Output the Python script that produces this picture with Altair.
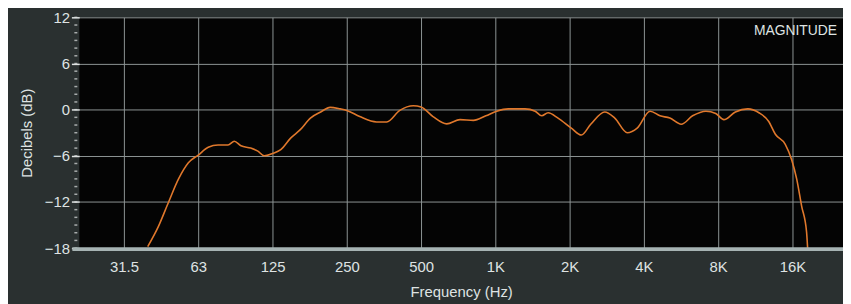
import altair as alt
import pandas as pd

# ---- data ----
freq_hz = [39, 43.2, 47.4, 52.0, 57.0, 62.5, 68.6, 75.2, 82.5, 87.5, 93.1, 102, 109,
           115.7, 125, 135, 148, 162, 178, 196, 214, 235, 250, 282, 330, 363, 410,
           465, 500, 559, 635, 719, 815, 915, 1013, 1128, 1319, 1450, 1541, 1636,
           1795, 2031, 2232, 2435, 2774, 3048, 3426, 3756, 4237, 4648, 5098, 5665,
           6300, 7135, 7820, 8435, 9390, 10550, 11700, 12800, 13640, 14960, 15880,
           16640, 17420, 18250, 18430]
level_db = [-17.8, -15.1, -12.0, -9.0, -6.9, -5.9, -4.9, -4.6, -4.6, -4.1, -4.7, -5.0,
            -5.4, -6.0, -5.7, -5.2, -3.7, -2.6, -1.1, -0.3, 0.3, 0.1, -0.1, -0.9, -1.6,
            -1.6, -0.1, 0.5, 0.35, -0.9, -1.85, -1.3, -1.4, -0.8, -0.2, 0.1, 0.1, -0.2,
            -0.8, -0.4, -1.1, -2.4, -3.3, -1.9, -0.3, -1.1, -3.0, -2.4, -0.2, -0.8,
            -1.1, -1.9, -0.8, -0.2, -0.5, -1.3, -0.3, 0.1, -0.4, -1.5, -3.2, -4.5,
            -6.5, -9.0, -12.5, -15.9, -18.0]
tick_values_hz = [31.25, 62.5, 125, 250, 500, 1000, 2000, 4000, 8000, 16000]
tick_labels = ["31.5", "63", "125", "250", "500", "1K", "2K", "4K", "8K", "16K"]
db_ticks = [-18, -12, -6, 0, 6, 12]
minor_db = list(range(-18, 13))
panel_label = ["MAGNITUDE"]

# ---- layout / style ----
W, H = 771, 233
FONT = "Liberation Sans"
TXT = "#dfe3e3"
GRID = "#8e9595"
x_domain = [20.6, 25640]
y_domain = [-18, 12]

curve = pd.DataFrame({"freq": freq_hz, "db": level_db})
label_expr = ("[" + ",".join(f"'{t}'" for t in tick_labels) + "][indexof(["
              + ",".join(str(v) for v in tick_values_hz) + "], datum.value)]")

x_enc = alt.X(
    "freq:Q",
    scale=alt.Scale(type="log", domain=x_domain, nice=False),
    axis=alt.Axis(values=tick_values_hz, labelExpr=label_expr, title="Frequency (Hz)",
                  grid=True, gridColor=GRID, gridWidth=1, ticks=False, domain=False,
                  labelFont=FONT, labelFontSize=15, labelColor=TXT, labelPadding=12,
                  labelFlush=False,
                  titleFont=FONT, titleFontSize=15, titleFontWeight="normal",
                  titleColor=TXT, titleY=44, titleBaseline="middle"),
)
y_axis = alt.Axis(values=db_ticks, title="Decibels (dB)", grid=True, gridColor=GRID,
                  gridWidth=1, tickSize=8, tickColor=TXT, tickWidth=1.5, domain=False,
                  labelFont=FONT, labelFontSize=15, labelColor=TXT, labelPadding=2,
                  labelFlush=False,
                  titleFont=FONT, titleFontSize=15, titleFontWeight="normal",
                  titleColor=TXT, titleX=-53, titleY=H / 2, titleBaseline="middle",
                  titleAngle=-90)
y_scale = alt.Scale(domain=y_domain, nice=False, zero=False)

line = alt.Chart(curve).mark_line(color="#e0782c", strokeWidth=1.6,
                                  interpolate="monotone").encode(
    x=x_enc, y=alt.Y("db:Q", scale=y_scale, axis=y_axis))

minor = alt.Chart(pd.DataFrame({"db": minor_db})).mark_tick(
    color=TXT, thickness=1.5, size=3
).encode(y=alt.Y("db:Q", scale=y_scale, axis=y_axis), x=alt.value(-3.5))

bar = alt.Chart(pd.DataFrame({"a": [0]})).mark_rule(
    color="#a6b3b3", strokeWidth=4
).encode(x=alt.value(-7), x2=alt.value(W), y=alt.value(H + 1))

label = alt.Chart(pd.DataFrame({"t": panel_label})).mark_text(
    align="right", baseline="middle", font=FONT, fontSize=14, color=TXT
).encode(text="t:N", x=alt.value(765), y=alt.value(14))

chart = alt.layer(minor, line, bar, label).properties(
    width=W, height=H,
    padding={"left": 72, "top": 8, "right": 0, "bottom": 55},
    autosize=alt.AutoSizeParams(type="none"),
    background="#2a3030",
).configure_view(fill="#040404", stroke=None)

chart.save("out.html", embed_options={"renderer": "svg", "actions": False})
